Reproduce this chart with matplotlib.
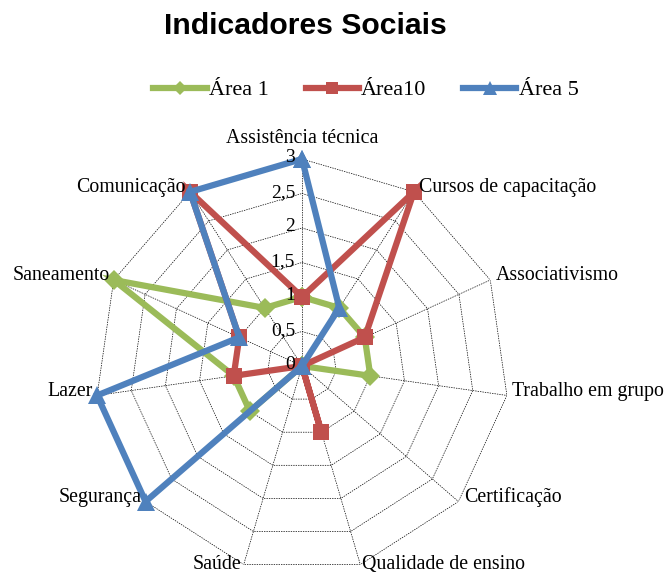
import numpy as np
import matplotlib
matplotlib.use("Agg")
import matplotlib.pyplot as plt
from matplotlib.lines import Line2D

categories = ["Assistência técnica", "Cursos de capacitação", "Associativismo",
              "Trabalho em grupo", "Certificação", "Qualidade de ensino", "Saúde",
              "Segurança", "Lazer", "Saneamento", "Comunicação"]
area1 = [1, 1, 1, 1, 0, 0, 0, 1, 1, 3, 1]
area10 = [1, 3, 1, 0, 0, 1, 0, 0, 1, 1, 3]
area5 = [3, 1, 0, 0, 0, 0, 0, 3, 3, 1, 3]
series_names = ["Área 1", "Área10", "Área 5"]
ring_levels = [0.5, 1, 1.5, 2, 2.5, 3]
ring_labels = ["0", "0,5", "1", "1,5", "2", "2,5", "3"]

colors = ["#9BBB59", "#C0504D", "#4F81BD"]
markers = ["D", "s", "^"]
msizes = [10, 12, 13]

serif = ["Liberation Serif", "DejaVu Serif"]

fig = plt.figure(figsize=(6.68, 5.75), dpi=100)
cx, cy, R = 302, 366, 207
W, H = 668, 575
ax = fig.add_axes([(cx - R) / W, (H - cy - R) / H, 2 * R / W, 2 * R / H], projection="polar")
ax.set_theta_zero_location("N")
ax.set_theta_direction(-1)
ax.set_ylim(0, 3)
ax.axis("off")

n = len(categories)
angles = np.linspace(0, 2 * np.pi, n, endpoint=False)
closed = np.concatenate([angles, angles[:1]])

# grid rings
for lv in ring_levels:
    ax.plot(closed, [lv] * (n + 1), color="black", lw=0.5, ls=(0, (2, 1.5)), zorder=1)
for a in angles:
    ax.plot([a, a], [0, 3], color="black", lw=0.5, ls=(0, (2, 1.5)), zorder=1)

# radial labels
for i, lab in enumerate(ring_labels):
    ax.annotate(lab, xy=(0, i * 0.5), xytext=(-5, 1), textcoords="offset points",
                ha="right", va="center", fontsize=14, family=serif, zorder=5)

# series
for vals, c, m, ms in zip([area1, area10, area5], colors, markers, msizes):
    v = np.concatenate([vals, vals[:1]])
    ax.plot(closed, v, color=c, lw=4.5, marker=m, markersize=ms, markeredgewidth=0,
            zorder=3, clip_on=False, solid_joinstyle="miter")

# category labels
for a, lab in zip(angles, categories):
    deg = np.degrees(a)
    if deg < 1:
        ha, va, off = "center", "bottom", (0, 8)
    elif deg < 150:
        ha, va, off = "left", "center", (4, 3)
    elif deg < 180:
        ha, va, off = "left", "center", (1, 0)
    elif deg < 210:
        ha, va, off = "right", "center", (-2, 0)
    else:
        ha, va, off = "right", "center", (-3, 3)
    ax.annotate(lab, xy=(a, 3), xytext=off, textcoords="offset points",
                ha=ha, va=va, fontsize=14.3, family=serif, annotation_clip=False)

fig.text(305 / W, 1 - 26 / H, "Indicadores Sociais", ha="center", va="center",
         fontsize=21.7, fontweight="bold", family=["Liberation Sans", "DejaVu Sans"])

handles = [Line2D([], [], color=c, lw=4.5, marker=m, markersize=ms * 0.75, markeredgewidth=0)
           for c, m, ms in zip(colors, markers, msizes)]
fig.legend(handles, series_names, loc="center", bbox_to_anchor=(366 / W, 1 - 90 / H),
           ncol=3, frameon=False, prop={"family": serif, "size": 16},
           handlelength=2.4, handletextpad=0.1, columnspacing=1.65)

fig.savefig("out.png", dpi=100)
